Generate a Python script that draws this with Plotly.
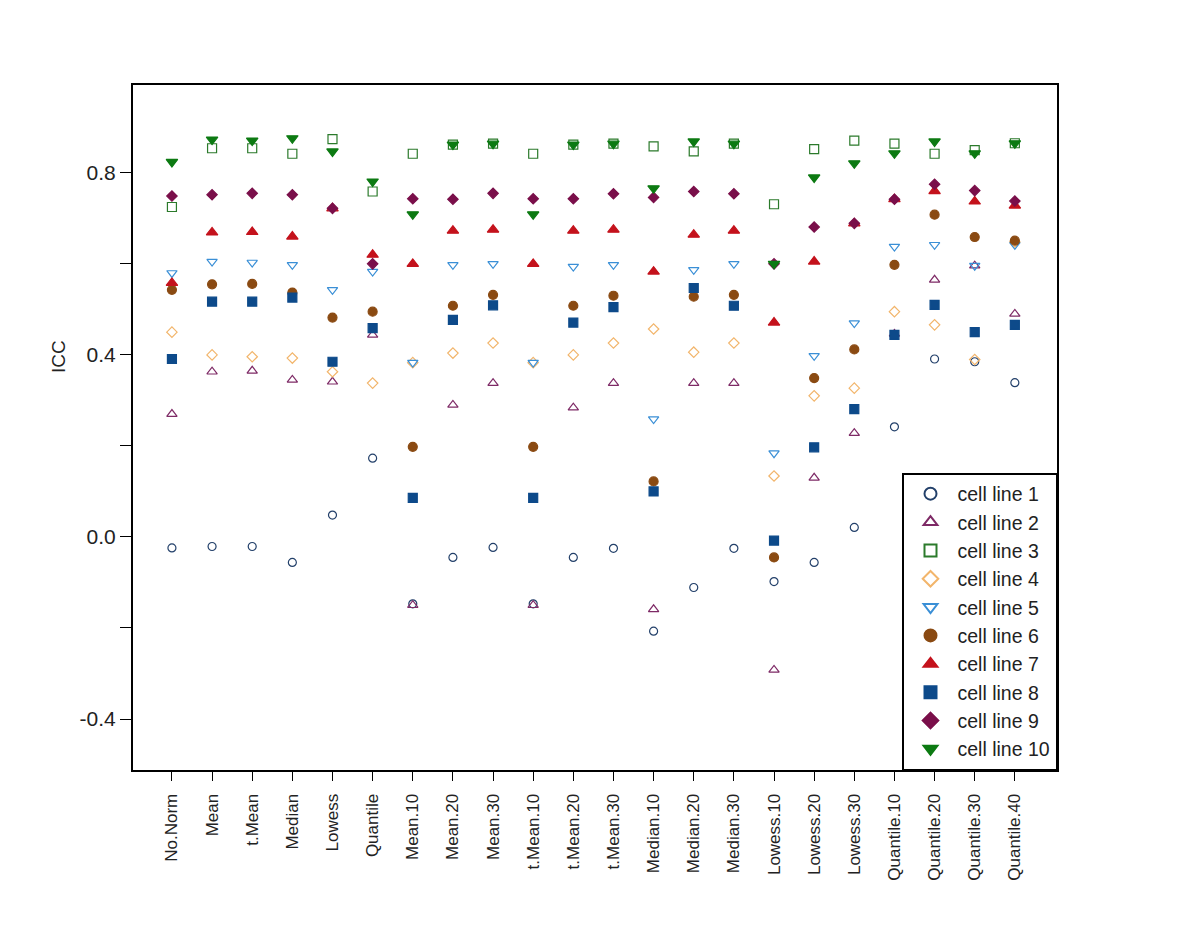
import plotly.graph_objects as go

methods = ["No.Norm", "Mean", "t.Mean", "Median", "Lowess", "Quantile",
           "Mean.10", "Mean.20", "Mean.30", "t.Mean.10", "t.Mean.20", "t.Mean.30",
           "Median.10", "Median.20", "Median.30", "Lowess.10", "Lowess.20", "Lowess.30",
           "Quantile.10", "Quantile.20", "Quantile.30", "Quantile.40"]

cell_line_1 = [-0.024, -0.021, -0.021, -0.056, 0.048, 0.173, -0.147, -0.045, -0.023, -0.147, -0.045,
               -0.025, -0.207, -0.111, -0.025, -0.098, -0.056, 0.021, 0.242, 0.391, 0.385, 0.339]
cell_line_2 = [0.270, 0.363, 0.365, 0.345, 0.341, 0.444, -0.150, 0.290, 0.338, -0.150, 0.284,
               0.338, -0.159, 0.338, 0.338, -0.292, 0.130, 0.228, 0.446, 0.565, 0.596, 0.490]
cell_line_3 = [0.725, 0.854, 0.854, 0.842, 0.874, 0.759, 0.842, 0.862, 0.864, 0.842, 0.862,
               0.864, 0.858, 0.847, 0.864, 0.731, 0.852, 0.871, 0.864, 0.842, 0.850, 0.865]
cell_line_4 = [0.450, 0.400, 0.396, 0.393, 0.363, 0.338, 0.383, 0.404, 0.426, 0.383, 0.400,
               0.426, 0.457, 0.406, 0.426, 0.134, 0.310, 0.327, 0.495, 0.466, 0.390, 0.648]
cell_line_5 = [0.580, 0.605, 0.603, 0.598, 0.543, 0.583, 0.383, 0.598, 0.600, 0.383, 0.594,
               0.598, 0.259, 0.587, 0.600, 0.184, 0.398, 0.470, 0.638, 0.642, 0.596, 0.642]
cell_line_6 = [0.543, 0.555, 0.556, 0.537, 0.482, 0.495, 0.198, 0.508, 0.532, 0.198, 0.508,
               0.530, 0.122, 0.528, 0.532, -0.045, 0.349, 0.412, 0.598, 0.708, 0.659, 0.651]
cell_line_7 = [0.558, 0.669, 0.670, 0.660, 0.722, 0.620, 0.600, 0.673, 0.675, 0.600, 0.673,
               0.675, 0.583, 0.664, 0.673, 0.471, 0.605, 0.689, 0.742, 0.760, 0.737, 0.728]
cell_line_8 = [0.391, 0.517, 0.517, 0.526, 0.385, 0.459, 0.086, 0.477, 0.509, 0.086, 0.471,
               0.505, 0.100, 0.547, 0.508, -0.008, 0.197, 0.281, 0.444, 0.510, 0.450, 0.466]
cell_line_9 = [0.749, 0.752, 0.755, 0.752, 0.722, 0.600, 0.743, 0.742, 0.755, 0.743, 0.743,
               0.754, 0.746, 0.759, 0.754, 0.600, 0.681, 0.689, 0.742, 0.775, 0.761, 0.738]
cell_line_10 = [0.824, 0.873, 0.871, 0.876, 0.847, 0.781, 0.709, 0.862, 0.864, 0.709, 0.862,
                0.864, 0.766, 0.869, 0.864, 0.600, 0.790, 0.821, 0.843, 0.869, 0.843, 0.865]

series_names = ["cell line 1", "cell line 2", "cell line 3", "cell line 4", "cell line 5",
                "cell line 6", "cell line 7", "cell line 8", "cell line 9", "cell line 10"]
series_values = [cell_line_1, cell_line_2, cell_line_3, cell_line_4, cell_line_5,
                 cell_line_6, cell_line_7, cell_line_8, cell_line_9, cell_line_10]
symbols = ["circle-open", "triangle-up-open", "square-open", "diamond-open", "triangle-down-open",
           "circle", "triangle-up", "square", "diamond", "triangle-down"]
colors = ["#23406a", "#7e2a66", "#2b7a2b", "#f2b56b", "#3a8fd6",
          "#8a4a12", "#c4121c", "#0d4a8a", "#7a0f4a", "#0c7a12"]
sizes = [8, 9, 9, 8, 9, 9, 10, 9, 8, 10]

fig = go.Figure()
for name, vals, sym, col, sz in zip(series_names, series_values, symbols, colors, sizes):
    fig.add_trace(go.Scatter(
        x=methods, y=vals, mode="markers", name=name,
        marker=dict(symbol=sym, color=col, size=sz, line=dict(color=col, width=1.2)),
    ))

fig.add_annotation(text="ICC", xref="paper", yref="paper", x=-0.094, y=0.604,
                   textangle=-90, showarrow=False, font=dict(size=19, color="#222"))

fig.update_layout(
    width=1200, height=926,
    margin=dict(l=125, r=151, t=77, b=164),
    paper_bgcolor="white", plot_bgcolor="white",
    font=dict(family="Liberation Sans, Arial, sans-serif", color="#222"),
    showlegend=True,
    legend=dict(x=1, y=0, xanchor="right", yanchor="bottom",
                bordercolor="black", borderwidth=1.5, bgcolor="white",
                font=dict(size=19.5, color="#222"), tracegroupgap=0,
                itemsizing="constant", itemwidth=44),
)
fig.update_xaxes(
    type="category", range=[-0.97, 22.05],
    showline=True, linecolor="black", linewidth=2, mirror=True,
    showgrid=False, zeroline=False,
    ticks="outside", ticklen=9, tickcolor="black", tickwidth=1,
    tickangle=-90, tickfont=dict(size=17, color="#222"), ticklabelstandoff=6,
)
fig.update_yaxes(
    range=[-0.512, 0.993],
    showline=True, linecolor="black", linewidth=2, mirror=True,
    showgrid=False, zeroline=False,
    tickvals=[-0.4, -0.2, 0.0, 0.2, 0.4, 0.6, 0.8],
    ticktext=["-0.4", "", "0.0", "", "0.4", "", "0.8"],
    ticks="outside", ticklen=11, tickcolor="black", tickwidth=1,
    tickfont=dict(size=21, color="#222"), ticklabelstandoff=0,
)

fig.write_html("out.html")
